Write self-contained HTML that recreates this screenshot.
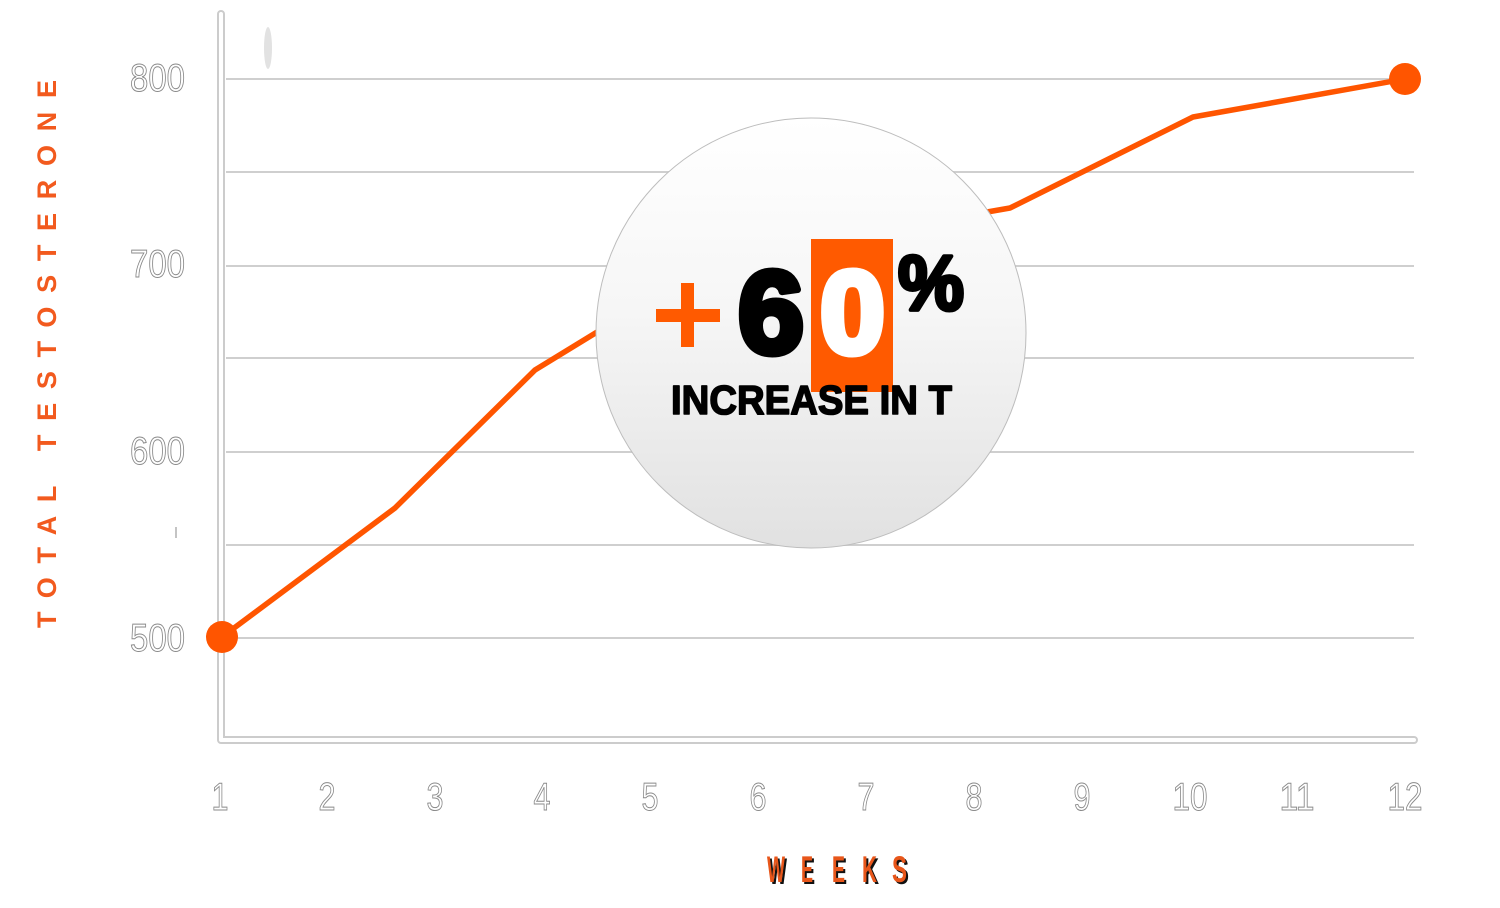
<!DOCTYPE html>
<html><head><meta charset="utf-8"><style>
html,body{margin:0;padding:0;background:#fff;}
svg{display:block;}
</style></head><body>
<svg width="1500" height="908" viewBox="0 0 1500 908" xmlns="http://www.w3.org/2000/svg">
<defs>
<linearGradient id="cg" x1="0" y1="0" x2="0" y2="1">
<stop offset="0" stop-color="#ffffff"/>
<stop offset="0.45" stop-color="#f6f6f6"/>
<stop offset="1" stop-color="#e1e1e1"/>
</linearGradient>
</defs>
<rect width="1500" height="908" fill="#fff"/>
<!-- smudges -->
<ellipse cx="268" cy="48" rx="4" ry="21" fill="#e2e2e2"/>
<rect x="175" y="527" width="2" height="11" fill="#c4c4c4"/>
<!-- grid -->
<g stroke="#cfcfcf" stroke-width="2">
<line x1="226" y1="79" x2="1414" y2="79"/>
<line x1="226" y1="172" x2="1414" y2="172"/>
<line x1="226" y1="266" x2="1414" y2="266"/>
<line x1="226" y1="358" x2="1414" y2="358"/>
<line x1="226" y1="452" x2="1414" y2="452"/>
<line x1="226" y1="545" x2="1414" y2="545"/>
<line x1="226" y1="638" x2="1414" y2="638"/>
</g>
<!-- axes -->
<path d="M221 14 V740 H1414" fill="none" stroke="#cccccc" stroke-width="8" stroke-linecap="round" stroke-linejoin="round"/>
<path d="M221 14 V740 H1414" fill="none" stroke="#ffffff" stroke-width="4" stroke-linecap="round" stroke-linejoin="round"/>
<!-- series -->
<polyline points="222,637 395,508 535,370 620,318" fill="none" stroke="#ff5500" stroke-width="5.5" stroke-linejoin="round"/>
<polyline points="970,215 1010,208 1193,117 1405,79" fill="none" stroke="#ff5500" stroke-width="5.5" stroke-linejoin="round"/>
<circle cx="222" cy="637" r="16" fill="#ff5500"/>
<circle cx="1405" cy="79" r="16" fill="#ff5500"/>
<!-- bubble -->
<circle cx="811" cy="333" r="215" fill="url(#cg)" stroke="#bdbdbd" stroke-width="1"/>
<rect x="811" y="239" width="82" height="153" fill="#ff5a00"/>
<rect x="656" y="309" width="64" height="13" fill="#ff5a00"/>
<rect x="681" y="283" width="13" height="64" fill="#ff5a00"/>
<text x="738" y="353" font-family="Liberation Sans, sans-serif" font-weight="bold" font-size="117" fill="#000" stroke="#000" stroke-width="7" stroke-linejoin="round" textLength="66" lengthAdjust="spacingAndGlyphs">6</text>
<text x="820" y="353" font-family="Liberation Sans, sans-serif" font-weight="bold" font-size="117" fill="#fff" stroke="#fff" stroke-width="7" stroke-linejoin="round" textLength="65" lengthAdjust="spacingAndGlyphs">0</text>
<text x="898" y="310" font-family="Liberation Sans, sans-serif" font-weight="bold" font-size="78" fill="#000" stroke="#000" stroke-width="4" stroke-linejoin="round" textLength="66" lengthAdjust="spacingAndGlyphs">%</text>
<text x="671" y="414" font-family="Liberation Sans, sans-serif" font-weight="bold" font-size="41" fill="#000" stroke="#000" stroke-width="1.6" stroke-linejoin="round" textLength="281" lengthAdjust="spacingAndGlyphs">INCREASE IN T</text>
<!-- y tick labels -->
<g font-family="Liberation Sans, sans-serif" font-size="39" fill="#fff" stroke="#8a8a8a" stroke-width="1" text-anchor="end">
<text x="185" y="91" textLength="55" lengthAdjust="spacingAndGlyphs">800</text>
<text x="185" y="277" textLength="55" lengthAdjust="spacingAndGlyphs">700</text>
<text x="185" y="464" textLength="55" lengthAdjust="spacingAndGlyphs">600</text>
<text x="185" y="651" textLength="55" lengthAdjust="spacingAndGlyphs">500</text>
</g>
<!-- x tick labels -->
<g font-family="Liberation Sans, sans-serif" font-size="39" fill="#fff" stroke="#8a8a8a" stroke-width="1" text-anchor="middle">
<text x="220" y="810" textLength="17" lengthAdjust="spacingAndGlyphs">1</text>
<text x="327" y="810" textLength="17" lengthAdjust="spacingAndGlyphs">2</text>
<text x="435" y="810" textLength="17" lengthAdjust="spacingAndGlyphs">3</text>
<text x="542" y="810" textLength="17" lengthAdjust="spacingAndGlyphs">4</text>
<text x="650" y="810" textLength="17" lengthAdjust="spacingAndGlyphs">5</text>
<text x="758" y="810" textLength="17" lengthAdjust="spacingAndGlyphs">6</text>
<text x="866" y="810" textLength="17" lengthAdjust="spacingAndGlyphs">7</text>
<text x="974" y="810" textLength="17" lengthAdjust="spacingAndGlyphs">8</text>
<text x="1082" y="810" textLength="17" lengthAdjust="spacingAndGlyphs">9</text>
<text x="1190" y="810" textLength="35" lengthAdjust="spacingAndGlyphs">10</text>
<text x="1297" y="810" textLength="35" lengthAdjust="spacingAndGlyphs">11</text>
<text x="1405" y="810" textLength="35" lengthAdjust="spacingAndGlyphs">12</text>
</g>
<!-- y axis title -->
<text transform="translate(56,354) rotate(-90)" x="0" y="0" text-anchor="middle" font-family="Liberation Sans, sans-serif" font-weight="bold" font-size="27" fill="#f25a1e" textLength="548" lengthAdjust="spacing">TOTAL  TESTOSTERONE</text>
<!-- x axis title -->
<g font-family="Liberation Sans, sans-serif" font-weight="bold" font-size="37" fill="#111">
<text x="769" y="884" textLength="18" lengthAdjust="spacingAndGlyphs">W</text>
<text x="803" y="884" textLength="12" lengthAdjust="spacingAndGlyphs">E</text>
<text x="834" y="884" textLength="13" lengthAdjust="spacingAndGlyphs">E</text>
<text x="864" y="884" textLength="15" lengthAdjust="spacingAndGlyphs">K</text>
<text x="894" y="884" textLength="15" lengthAdjust="spacingAndGlyphs">S</text>
</g>
<g font-family="Liberation Sans, sans-serif" font-weight="bold" font-size="37" fill="#e8561a">
<text x="767" y="882" textLength="18" lengthAdjust="spacingAndGlyphs">W</text>
<text x="801" y="882" textLength="12" lengthAdjust="spacingAndGlyphs">E</text>
<text x="832" y="882" textLength="13" lengthAdjust="spacingAndGlyphs">E</text>
<text x="862" y="882" textLength="15" lengthAdjust="spacingAndGlyphs">K</text>
<text x="892" y="882" textLength="15" lengthAdjust="spacingAndGlyphs">S</text>
</g>
</svg>
</body></html>
